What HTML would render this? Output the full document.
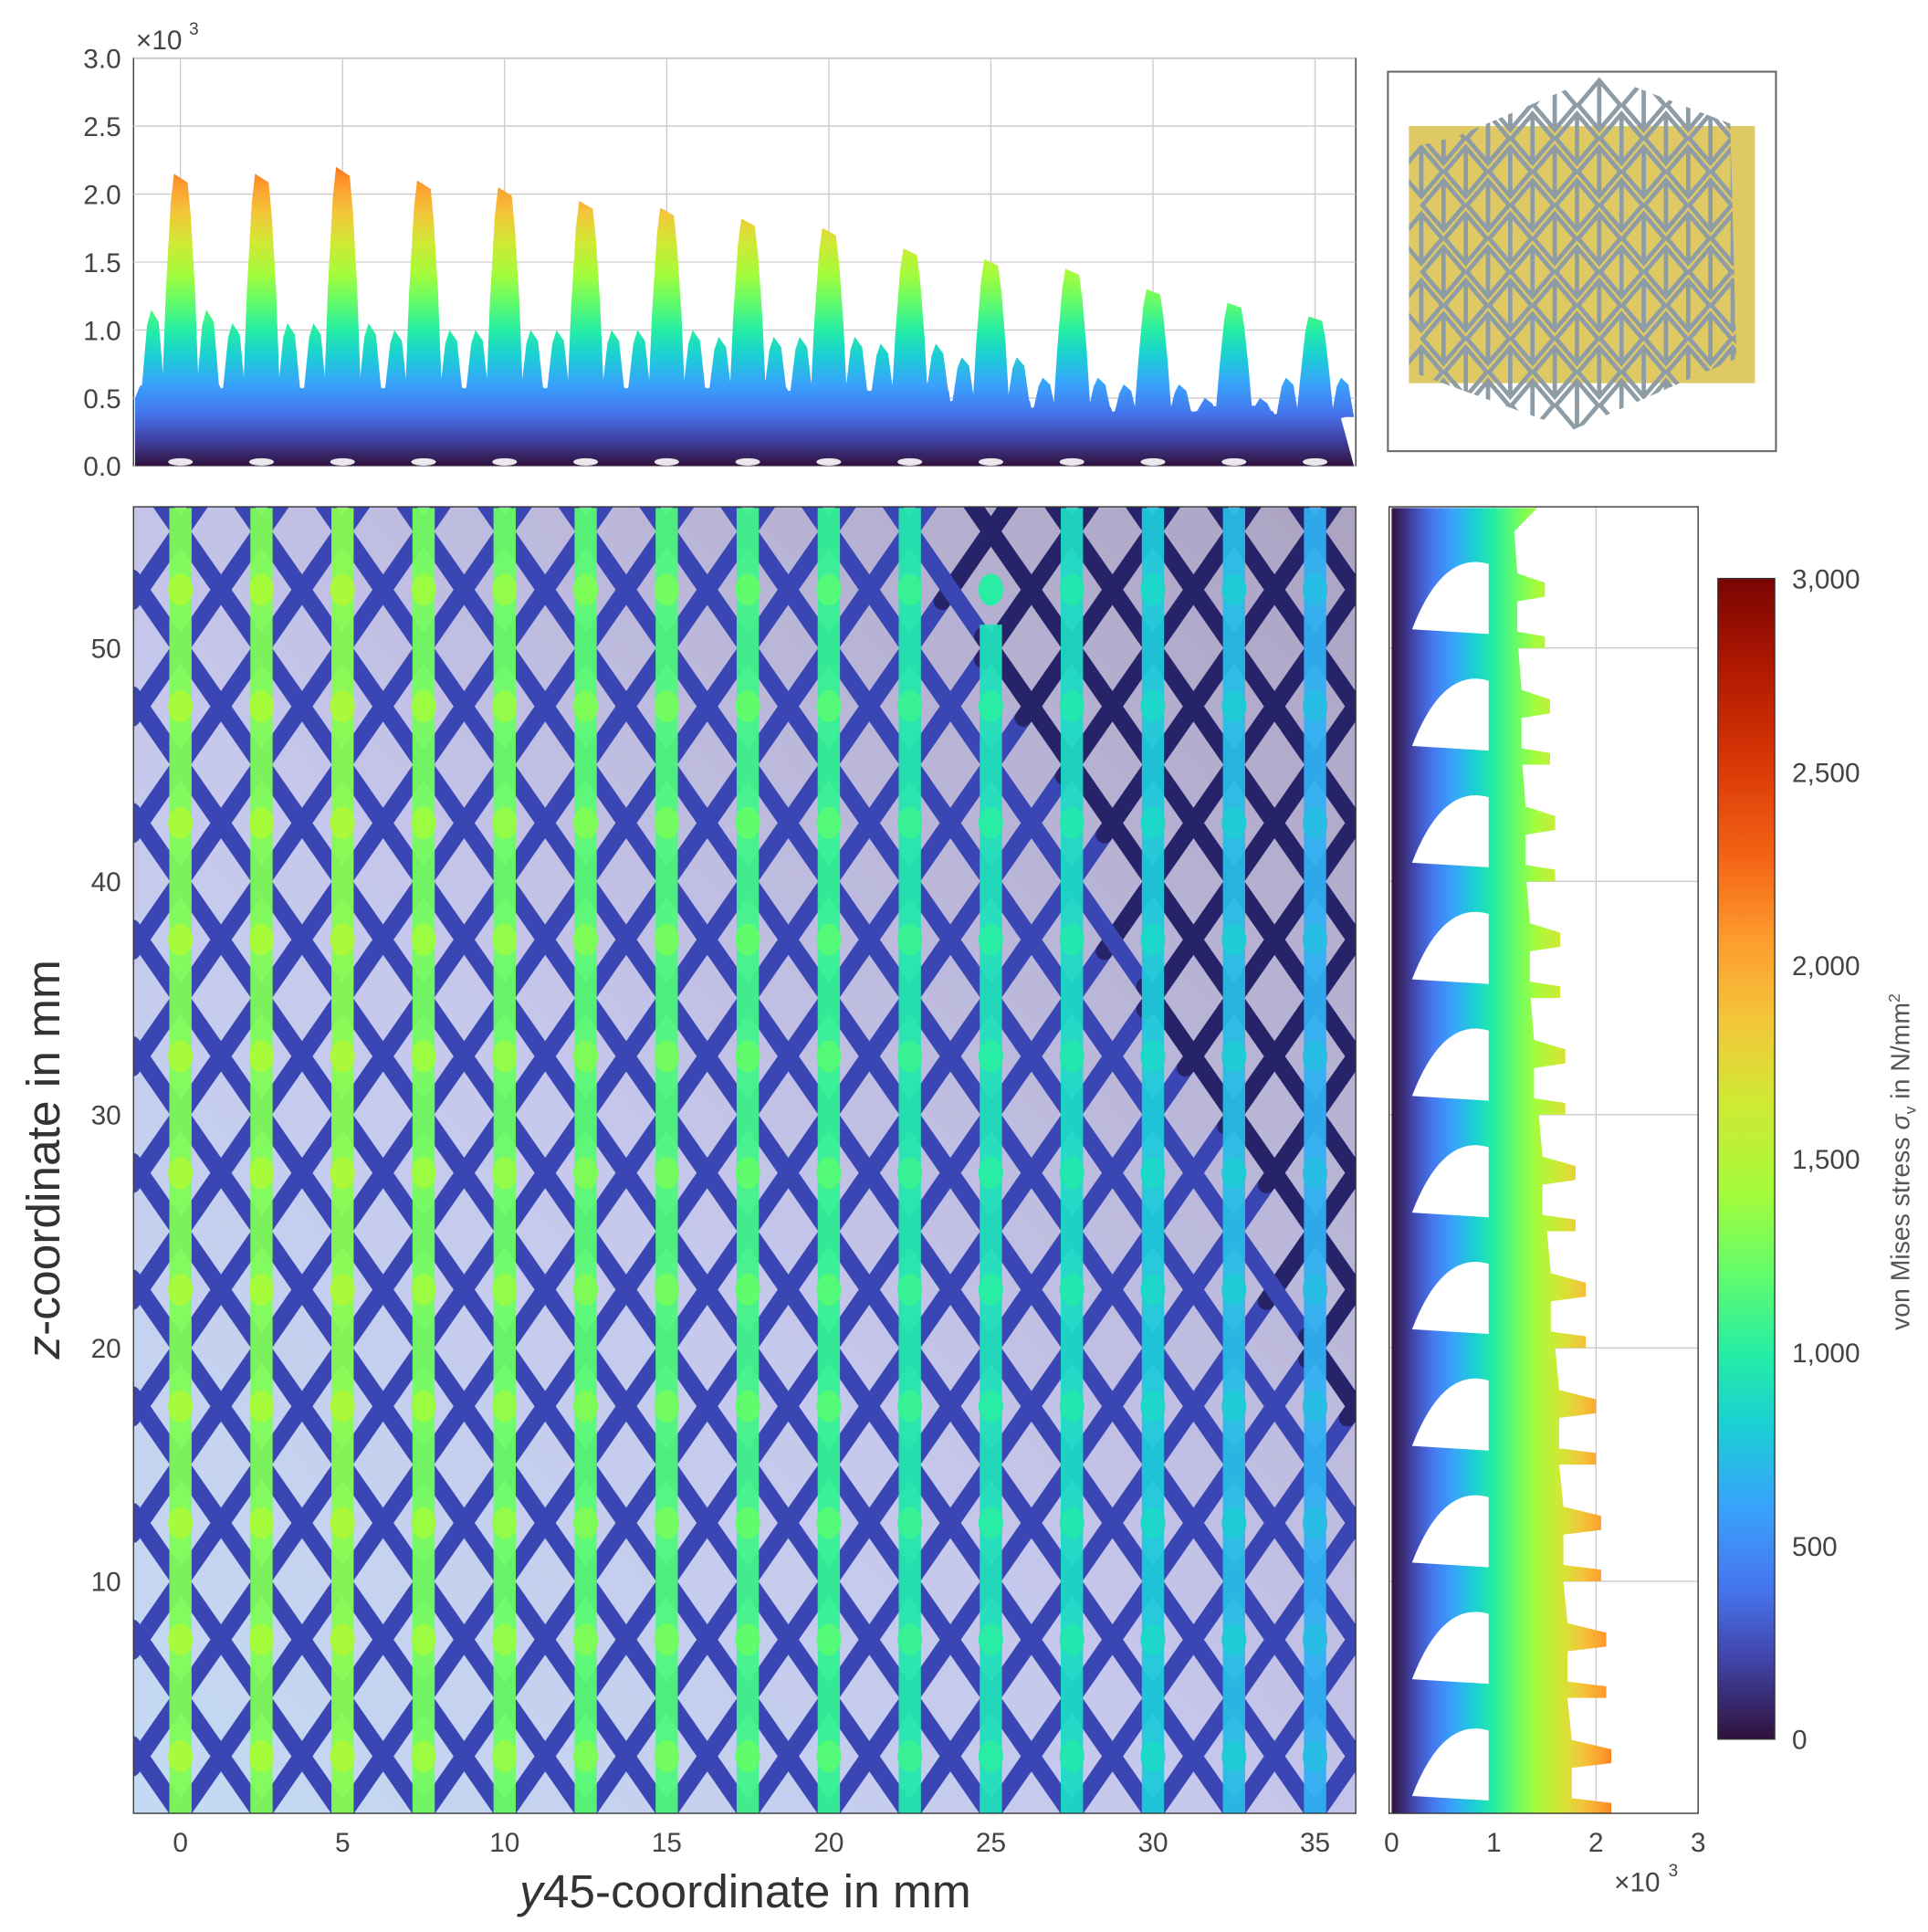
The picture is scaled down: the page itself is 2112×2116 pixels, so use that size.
<!DOCTYPE html>
<html><head><meta charset="utf-8"><style>
html,body{margin:0;padding:0;background:#fff;}
svg{display:block;font-family:"Liberation Sans",sans-serif;}
</style></head><body>
<svg id="fig" width="2112" height="2116" viewBox="0 0 1560 1563" xmlns="http://www.w3.org/2000/svg">
<defs>
<linearGradient id="turboV" gradientUnits="userSpaceOnUse" x1="0" y1="377" x2="0" y2="47">
<stop offset="0" stop-color="#30123b"/><stop offset="0.07" stop-color="#4145ab"/><stop offset="0.13" stop-color="#4675ed"/><stop offset="0.2" stop-color="#39a2fc"/><stop offset="0.27" stop-color="#1bcfd4"/><stop offset="0.33" stop-color="#24eca6"/><stop offset="0.4" stop-color="#61fc6c"/><stop offset="0.47" stop-color="#a4fc3b"/><stop offset="0.55" stop-color="#d1e834"/><stop offset="0.62" stop-color="#f3c63a"/><stop offset="0.69" stop-color="#fe9b2d"/><stop offset="0.76" stop-color="#f36315"/><stop offset="0.84" stop-color="#d93806"/><stop offset="0.92" stop-color="#b11901"/><stop offset="1" stop-color="#7a0403"/>
</linearGradient>
<linearGradient id="turboH" gradientUnits="userSpaceOnUse" x1="1126" y1="0" x2="1374" y2="0">
<stop offset="0" stop-color="#30123b"/><stop offset="0.07" stop-color="#4145ab"/><stop offset="0.13" stop-color="#4675ed"/><stop offset="0.2" stop-color="#39a2fc"/><stop offset="0.27" stop-color="#1bcfd4"/><stop offset="0.33" stop-color="#24eca6"/><stop offset="0.4" stop-color="#61fc6c"/><stop offset="0.47" stop-color="#a4fc3b"/><stop offset="0.55" stop-color="#d1e834"/><stop offset="0.62" stop-color="#f3c63a"/><stop offset="0.69" stop-color="#fe9b2d"/><stop offset="0.76" stop-color="#f36315"/><stop offset="0.84" stop-color="#d93806"/><stop offset="0.92" stop-color="#b11901"/><stop offset="1" stop-color="#7a0403"/>
</linearGradient>
<linearGradient id="turboCB" x1="0" y1="1" x2="0" y2="0">
<stop offset="0" stop-color="#30123b"/><stop offset="0.07" stop-color="#4145ab"/><stop offset="0.13" stop-color="#4675ed"/><stop offset="0.2" stop-color="#39a2fc"/><stop offset="0.27" stop-color="#1bcfd4"/><stop offset="0.33" stop-color="#24eca6"/><stop offset="0.4" stop-color="#61fc6c"/><stop offset="0.47" stop-color="#a4fc3b"/><stop offset="0.55" stop-color="#d1e834"/><stop offset="0.62" stop-color="#f3c63a"/><stop offset="0.69" stop-color="#fe9b2d"/><stop offset="0.76" stop-color="#f36315"/><stop offset="0.84" stop-color="#d93806"/><stop offset="0.92" stop-color="#b11901"/><stop offset="1" stop-color="#7a0403"/>
</linearGradient>
<linearGradient id="bgMain" x1="0" y1="1" x2="1" y2="0">
<stop offset="0" stop-color="#c4daf2"/><stop offset="0.45" stop-color="#c6c7ec"/><stop offset="1" stop-color="#aca3c2"/>
</linearGradient>
<clipPath id="clipMain"><rect x="108" y="410" width="989" height="1057"/></clipPath>
<clipPath id="clipRight"><rect x="1124" y="410" width="250" height="1057"/></clipPath>
<clipPath id="clipInset"><polygon points="1180,110 1296,60 1400,100 1405,290 1272,348 1140,300 1140,120"/></clipPath>
</defs>
<g id="top"></g>
<g id="main"></g>
<g id="right"></g>
<g id="cbar"></g>
<g id="inset"></g>
</svg>
<script>
const columns=[0,2.5,5,7.5,10,12.5,15,17.5,20,22.5,25,27.5,30,32.5,35];
const peakStress=[2.15,2.15,2.2,2.1,2.05,1.95,1.9,1.82,1.75,1.6,1.52,1.45,1.3,1.2,1.1];
const sidePeak=[1.15,1.05,1.05,1.0,1.0,1.0,1.0,0.95,0.95,0.9,0.8,0.65,0.6,0.5,0.65];
const baseLevel=[0.62,0.6,0.6,0.6,0.6,0.6,0.6,0.6,0.58,0.58,0.5,0.45,0.42,0.42,0.4];
const xTicks=[0,5,10,15,20,25,30,35];
const topTicks=[0,0.5,1.0,1.5,2.0,2.5,3.0];
const zTicks=[10,20,30,40,50];
const bandZ=[0,5,10,15,20,25,30,35,40,45,50];
const bandExtent=[2.15,2.1,2.05,2.0,1.9,1.8,1.7,1.65,1.6,1.55,1.5];
const cbTicks=[0,500,1000,1500,2000,2500,3000];
const NS="http://www.w3.org/2000/svg";
const X=v=>146+v*26.23;
const TY=v=>377-v*110;
const Z=v=>1468-v*18.875;
const RX=v=>1126+v*82.7;
function mk(parent,tag,attrs,text){const e=document.createElementNS(NS,tag);for(const k in attrs)e.setAttribute(k,attrs[k]);if(text!==undefined)e.textContent=text;parent.appendChild(e);return e;}
const STOPS=[[0,48,18,59],[0.07,65,69,171],[0.13,70,117,237],[0.2,57,162,252],[0.27,27,207,212],[0.33,36,236,166],[0.4,97,252,108],[0.47,164,252,59],[0.55,209,232,52],[0.62,243,198,58],[0.69,254,155,45],[0.76,243,99,21],[0.84,217,56,6],[0.92,177,25,1],[1,122,4,3]];
function turbo(t){t=Math.max(0,Math.min(1,t));for(let i=1;i<STOPS.length;i++){if(t<=STOPS[i][0]){const a=STOPS[i-1],b=STOPS[i],f=(t-a[0])/(b[0]-a[0]);return `rgb(${Math.round(a[1]+f*(b[1]-a[1]))},${Math.round(a[2]+f*(b[2]-a[2]))},${Math.round(a[3]+f*(b[3]-a[3]))})`;}}return 'rgb(122,4,3)';}
const tickStyle={fill:"#444","font-size":"22"};

// ---------- TOP ----------
const topG=document.getElementById('top');
let fr=mk(topG,'rect',{x:108,y:47,width:989,height:330,fill:'#fff',stroke:'#333','stroke-width':1});

xTicks.forEach(t=>{let l=mk(topG,'line',{x1:X(t),x2:X(t),y1:47,y2:377,stroke:'#ccc'});});
topTicks.forEach(t=>{let l=mk(topG,'line',{x1:108,x2:1097,y1:TY(t),y2:TY(t),stroke:'#ccc'});
let tx=mk(topG,'text',Object.assign({x:98,y:TY(t)+8,'text-anchor':'end'},tickStyle),t.toFixed(1));});
let ex=mk(topG,'text',{x:110,y:40,fill:'#444','font-size':'22'},'×10');
mk(topG,'text',{x:153,y:28,fill:'#444','font-size':'14'},'3');
let bp=`M${X(-1.4)},${TY(0)} L${X(-1.4)},${TY(0.5)}`;
columns.forEach((c,i)=>{const b=baseLevel[i];bp+=` L${X(c-1.25)},${TY(b*0.95)} L${X(c-0.6)},${TY(b*1.05)} L${X(c)},${TY(b)} L${X(c+0.6)},${TY(b*1.06)} L${X(c+1.2)},${TY(b*0.96)}`;});
bp+=` L${X(35.8)},${TY(0.35)} L${X(36.2)},${TY(0)} Z`;
let base=mk(topG,'path',{d:bp,fill:'url(#turboV)'});
columns.forEach((c,i)=>{
  [-0.85,0.85].forEach(o=>{const h=sidePeak[i];let p=mk(topG,'polygon',{points:`${X(c+o-0.35)},${TY(baseLevel[i]*0.9)} ${X(c+o-0.18)},${TY(h*0.9)} ${X(c+o-0.05)},${TY(h)} ${X(c+o+0.18)},${TY(h*0.92)} ${X(c+o+0.35)},${TY(baseLevel[i]*0.9)}`,fill:'url(#turboV)'});});
  const h=peakStress[i];
  let p=mk(topG,'polygon',{points:`${X(c-0.6)},${TY(0.3)} ${X(c-0.45)},${TY(h*0.6)} ${X(c-0.3)},${TY(h*0.9)} ${X(c-0.2)},${TY(h)} ${X(c+0.22)},${TY(h*0.97)} ${X(c+0.32)},${TY(h*0.85)} ${X(c+0.45)},${TY(h*0.6)} ${X(c+0.6)},${TY(0.3)}`,fill:'url(#turboV)'});
  
  mk(topG,'ellipse',{cx:X(c),cy:TY(0.03),rx:10,ry:3,fill:'#fff',opacity:0.9});
});

// ---------- MAIN ----------
const mainG=document.getElementById('main');
let mb=mk(mainG,'rect',{x:108,y:410,width:989,height:1057,fill:'url(#bgMain)'});
const mg=mk(mainG,'g',{'clip-path':'url(#clipMain)'});
function strutColor(xm,zm){const cut=56-(xm-23)*3;return (xm>24&&zm>cut)?'#262368':'#3a46b4';}
for(let c=-90;c<=130;c+=5){
  for(let s of [1,-1]){
    for(let x0=-1.5;x0<36.5;x0+=1.25){
      const x1=x0+1.25,z0=s*2*x0+c,z1=s*2*x1+c;
      if(Math.max(z0,z1)<-3||Math.min(z0,z1)>60)continue;
      const xm=(x0+x1)/2,zm=(z0+z1)/2;
      let l=mk(mg,'line',{x1:X(x0),y1:Z(z0),x2:X(x1),y2:Z(z1),stroke:strutColor(xm,zm),'stroke-width':14,'stroke-linecap':'round'});
      
    }
  }
}
columns.forEach((c,i)=>{
  const v=peakStress[i]*1000*0.6;
  const topZ=(c>24&&c<26)?51:56;
  let r=mk(mg,'rect',{x:X(c)-9,y:Z(topZ),width:18,height:Z(0)-Z(topZ),fill:turbo(v/3000),opacity:0.95});
  
  for(let z=2.5;z<56;z+=5){let e=mk(mg,'ellipse',{cx:X(c),cy:Z(z),rx:10,ry:13,fill:turbo(v*1.1/3000)});}
});
let mf=mk(mainG,'rect',{x:108,y:410,width:989,height:1057,fill:'none',stroke:'#333'});
xTicks.forEach(t=>{let tx=mk(mainG,'text',Object.assign({x:X(t),y:1498,'text-anchor':'middle'},tickStyle),t);});
zTicks.forEach(t=>{let tx=mk(mainG,'text',Object.assign({x:98,y:Z(t)+8,'text-anchor':'end'},tickStyle),t);});
let xt=mk(mainG,'text',{x:603,y:1543,'text-anchor':'middle',fill:'#333','font-size':'38'});
mk(xt,'tspan',{'font-style':'italic'},'y');mk(xt,'tspan',{},'45-coordinate in mm');

let zt=mk(mainG,'text',{x:48,y:938,'text-anchor':'middle',fill:'#333','font-size':'38',transform:'rotate(-90 48 938)'});
mk(zt,'tspan',{'font-style':'italic'},'z');mk(zt,'tspan',{},'-coordinate in mm');


// ---------- RIGHT ----------
const rightG=document.getElementById('right');
let rf=mk(rightG,'rect',{x:1124,y:410,width:250,height:1057,fill:'#fff'});
[1,2].forEach(t=>mk(rightG,'line',{x1:RX(t),x2:RX(t),y1:410,y2:1467,stroke:'#ccc'}));
zTicks.forEach(t=>mk(rightG,'line',{x1:1124,x2:1374,y1:Z(t),y2:Z(t),stroke:'#ccc'}));
const rg=mk(rightG,'g',{'clip-path':'url(#clipRight)'});
let rp=`M${RX(0)},${Z(56)} L${RX(bandExtent[bandExtent.length-1]*0.95)},${Z(56)}`;
for(let i=bandZ.length-1;i>=0;i--){const z=bandZ[i],e=bandExtent[i];rp+=` L${RX(e*0.8)},${Z(z+5)} L${RX(e*0.82)},${Z(z+3.2)} L${RX(e)},${Z(z+2.8)} L${RX(e)},${Z(z+2.2)} L${RX(e*0.82)},${Z(z+2)} L${RX(e*0.82)},${Z(z+0.7)} L${RX(e)},${Z(z+0.5)} L${RX(e)},${Z(z)}`;}
rp+=` L${RX(0)},${Z(0)} Z`;
let rh=mk(rg,'path',{d:rp,fill:'url(#turboH)'});
bandZ.forEach((z,i)=>{
  let t=mk(rg,'path',{d:`M${RX(0.2)},${Z(z+0.8)} Q${RX(0.5)},${Z(z+4.2)} ${RX(0.95)},${Z(z+3.6)} L${RX(0.95)},${Z(z+0.6)} Z`,fill:'#fff'});
  
});
mk(rightG,'rect',{x:1124,y:410,width:250,height:1057,fill:'none',stroke:'#333'});
[0,1,2,3].forEach(t=>{let tx=mk(rightG,'text',Object.assign({x:RX(t),y:1498,'text-anchor':'middle'},tickStyle),t);});
let rx=mk(rightG,'text',{x:1306,y:1530,fill:'#444','font-size':'22'},'×10');
mk(rightG,'text',{x:1350,y:1518,fill:'#444','font-size':'14'},'3');

// ---------- COLORBAR ----------
const cbG=document.getElementById('cbar');
const CY=v=>1407-v*(939/3000);
let cr=mk(cbG,'rect',{x:1390,y:468,width:46,height:939,fill:'url(#turboCB)',stroke:'#333'});
cbTicks.forEach(t=>{let tx=mk(cbG,'text',Object.assign({x:1450,y:CY(t)+8},tickStyle),t.toLocaleString('en-US'));});
let ct=mk(cbG,'text',{x:1545,y:940,'text-anchor':'middle',fill:'#555','font-size':'21',transform:'rotate(-90 1545 940)'});
mk(ct,'tspan',{},'von Mises stress ');mk(ct,'tspan',{'font-style':'italic'},'σ');mk(ct,'tspan',{'font-size':'13',dy:'5'},'v');mk(ct,'tspan',{dy:'-5'},' in N/mm');mk(ct,'tspan',{'font-size':'13',dy:'-8'},'2');


// ---------- INSET ----------
const insG=document.getElementById('inset');
let ib=mk(insG,'rect',{x:1123,y:58,width:314,height:307,fill:'#fff',stroke:'#666','stroke-width':1.5});
let yp=mk(insG,'rect',{x:1140,y:102,width:280,height:208,fill:'#d9bf4a',opacity:0.85});
const ig=mk(insG,'g',{'clip-path':'url(#clipInset)',stroke:'#8e9ca6','stroke-width':3.5,fill:'none'});
for(let r=0;r<10;r++)for(let c=0;c<9;c++){
  const cx=1150+c*36+(r%2)*18,cy=85+r*27;
  let d=mk(ig,'path',{d:`M${cx},${cy-20} L${cx+17},${cy} L${cx},${cy+20} L${cx-17},${cy} Z M${cx},${cy-20} L${cx},${cy+20}`});
  
}
</script>
</body></html>
